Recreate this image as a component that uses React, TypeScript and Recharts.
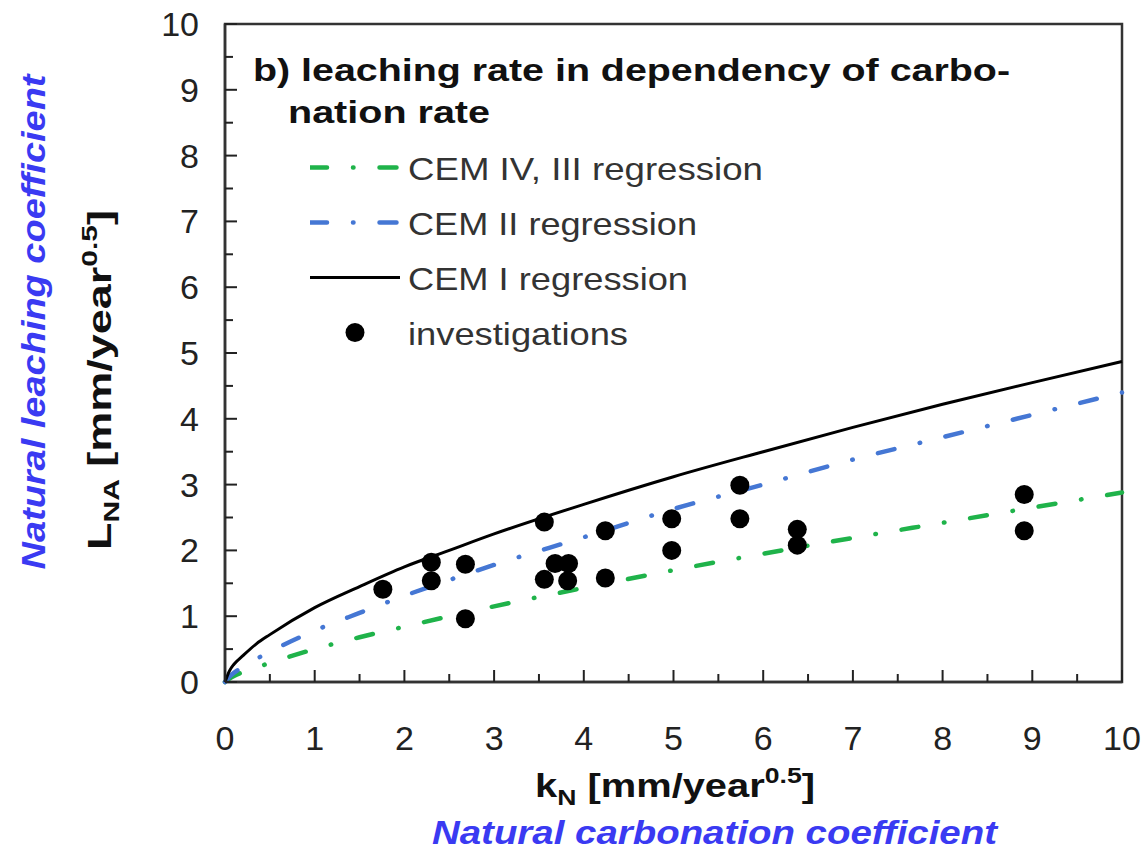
import React from 'react';
import { ComposedChart, Line, Scatter, XAxis, YAxis, ReferenceArea, Legend } from 'recharts';

// regression curves, sampled along k_N
const curveK = [0, 0.05, 0.1, 0.2, 0.35, 0.5, 1, 1.5, 2, 2.5, 3, 4, 5, 6, 7, 8, 9, 10];
const cemIVIII = [0, 0.05, 0.09, 0.15, 0.22, 0.29, 0.5, 0.68, 0.84, 1.0, 1.15, 1.43, 1.7, 1.95, 2.19, 2.42, 2.65, 2.88];
const cemII = [0, 0.08, 0.14, 0.23, 0.35, 0.46, 0.78, 1.05, 1.31, 1.55, 1.78, 2.2, 2.63, 3.0, 3.38, 3.72, 4.06, 4.4];
const cemI = [0, 0.17, 0.27, 0.4, 0.58, 0.72, 1.13, 1.45, 1.75, 2.0, 2.25, 2.7, 3.12, 3.5, 3.87, 4.22, 4.55, 4.87];

// measured samples
const investK = [1.76, 2.3, 2.3, 2.68, 2.68, 3.56, 3.56, 3.68, 3.83, 3.82, 4.24, 4.24, 4.98, 4.98, 5.74, 5.74, 6.38, 6.38, 8.91, 8.91];
const investL = [1.41, 1.82, 1.54, 1.79, 0.96, 2.43, 1.56, 1.8, 1.8, 1.54, 2.3, 1.58, 2.48, 2.0, 2.99, 2.48, 2.32, 2.08, 2.85, 2.3];

const axisTicks = [0, 0.5, 1, 1.5, 2, 2.5, 3, 3.5, 4, 4.5, 5, 5.5, 6, 6.5, 7, 7.5, 8, 8.5, 9, 9.5, 10];

const legendOrder = ['CEM IV, III regression', 'CEM II regression', 'CEM I regression', 'investigations'];

const curveRows = curveK.map((k, i) => ({ k, cemIVIII: cemIVIII[i], cemII: cemII[i], cemI: cemI[i] }));
const investRows = investK.map((k, i) => ({ k, l: investL[i] }));

const FONT = '"Liberation Sans", Arial, Helvetica, sans-serif';
const GREEN = '#1fb34a';
const BLUE = '#4577d4';
const DASH_DOT = '17 26 0.5 26';

const legendStyle: Record<string, { color: string; dash?: string; dot?: boolean; width: number }> = {
  'CEM IV, III regression': { color: GREEN, dash: DASH_DOT, width: 355 },
  'CEM II regression': { color: BLUE, dash: DASH_DOT, width: 289 },
  'CEM I regression': { color: '#000', width: 280 },
  investigations: { color: '#000', dot: true, width: 220 },
};

function XTick(props: any) {
  const { x, y, payload } = props;
  const major = Number.isInteger(payload.value);
  return (
    <g>
      <line x1={x} x2={x} y1={y} y2={y - (major ? 12 : 8)} stroke="#222" strokeWidth={2} />
      {major && (
        <text x={x} y={y + 68} textAnchor="middle" fontSize={34} fontFamily={FONT} fill="#222">
          {payload.value}
        </text>
      )}
    </g>
  );
}

function YTick(props: any) {
  const { x, y, payload } = props;
  const major = Number.isInteger(payload.value);
  return (
    <g>
      <line x1={x} x2={x + (major ? 12 : 8)} y1={y} y2={y} stroke="#222" strokeWidth={2} />
      {major && (
        <text x={x - 26} y={y + 12} textAnchor="end" fontSize={34} fontFamily={FONT} fill="#222">
          {payload.value}
        </text>
      )}
    </g>
  );
}

function LegendBox(props: any) {
  const names = (props.payload || []).map((p: any) => p.value);
  const rows = legendOrder.filter((n) => names.includes(n));
  return (
    <div>
      {rows.map((name) => {
        const s = legendStyle[name];
        return (
          <svg key={name} width={480} height={55} style={{ display: 'block' }}>
            {s.dot ? (
              <circle cx={45} cy={27.5} r={9.5} fill="#000" />
            ) : (
              <line
                x1={0}
                x2={90}
                y1={27.5}
                y2={27.5}
                stroke={s.color}
                strokeWidth={s.dash ? 4.5 : 3}
                strokeDasharray={s.dash}
                strokeLinecap={s.dash ? 'round' : 'butt'}
              />
            )}
            <text x={98} y={39.5} fontSize={32} fontFamily={FONT} fill="#333" textLength={s.width} lengthAdjust="spacingAndGlyphs">
              {name}
            </text>
          </svg>
        );
      })}
    </div>
  );
}

export default function App() {
  return (
    <div style={{ position: 'absolute', left: 0, top: 0, width: 1147, height: 851, background: '#fff' }}>
      <ComposedChart width={1147} height={851} data={curveRows} margin={{ top: 24, right: 25, left: 165, bottom: 109 }}>
        <XAxis
          type="number"
          dataKey="k"
          domain={[0, 10]}
          ticks={axisTicks}
          interval={0}
          height={60}
          tickSize={0}
          tickMargin={0}
          tick={<XTick />}
          axisLine={{ stroke: '#333', strokeWidth: 2.5 }}
        />
        <YAxis
          type="number"
          domain={[0, 10]}
          ticks={axisTicks}
          interval={0}
          width={60}
          tickSize={0}
          tickMargin={0}
          tick={<YTick />}
          axisLine={{ stroke: '#333', strokeWidth: 2.5 }}
        />
        <ReferenceArea x1={0} x2={10} y1={0} y2={10} fill="none" stroke="#333" strokeWidth={2.5} />
        <Legend
          layout="vertical"
          align="center"
          verticalAlign="middle"
          wrapperStyle={{ left: 310, top: 140, width: 480 }}
          content={<LegendBox />}
        />
        <Line
          name="CEM IV, III regression"
          type="monotone"
          dataKey="cemIVIII"
          stroke={GREEN}
          strokeWidth={4.5}
          strokeDasharray={DASH_DOT}
          strokeLinecap="round"
          dot={false}
          activeDot={false}
          isAnimationActive={false}
        />
        <Line
          name="CEM II regression"
          type="monotone"
          dataKey="cemII"
          stroke={BLUE}
          strokeWidth={4.5}
          strokeDasharray={DASH_DOT}
          strokeLinecap="round"
          dot={false}
          activeDot={false}
          isAnimationActive={false}
        />
        <Line
          name="CEM I regression"
          type="monotone"
          dataKey="cemI"
          stroke="#000"
          strokeWidth={3}
          dot={false}
          activeDot={false}
          isAnimationActive={false}
        />
        <Scatter
          name="investigations"
          data={investRows}
          dataKey="l"
          fill="#000"
          shape={(p: any) => <circle cx={p.cx} cy={p.cy} r={9.5} fill="#000" />}
          isAnimationActive={false}
        />
      </ComposedChart>
      <svg width={1147} height={851} style={{ position: 'absolute', left: 0, top: 0, pointerEvents: 'none' }} fontFamily={FONT}>
        <text x={253} y={81} fontSize={31} fontWeight="bold" fill="#111" textLength={757} lengthAdjust="spacingAndGlyphs">
          b) leaching rate in dependency of carbo-
        </text>
        <text x={288} y={123} fontSize={31} fontWeight="bold" fill="#111" textLength={202} lengthAdjust="spacingAndGlyphs">
          nation rate
        </text>
        <text x={535} y={797} fontSize={33} fontWeight="bold" fill="#111" textLength={280} lengthAdjust="spacingAndGlyphs">
          k<tspan fontSize={22} dy={8}>N</tspan>
          <tspan dy={-8}> [mm/year</tspan>
          <tspan fontSize={22} dy={-14}>0.5</tspan>
          <tspan dy={14}>]</tspan>
        </text>
        <text x={111} y={380} transform="rotate(-90 111 380)" textAnchor="middle" fontSize={33} fontWeight="bold" fill="#111" textLength={340} lengthAdjust="spacingAndGlyphs">
          L<tspan fontSize={22} dy={8}>NA</tspan>
          <tspan dy={-8}> [mm/year</tspan>
          <tspan fontSize={22} dy={-14}>0.5</tspan>
          <tspan dy={14}>]</tspan>
        </text>
        <text x={45} y={322} transform="rotate(-90 45 322)" textAnchor="middle" fontSize={33} fontWeight="bold" fontStyle="italic" fill="#3a3af2" textLength={495} lengthAdjust="spacingAndGlyphs">
          Natural leaching coefficient
        </text>
        <text x={432} y={844} fontSize={33} fontWeight="bold" fontStyle="italic" fill="#3a3af2" textLength={565} lengthAdjust="spacingAndGlyphs">
          Natural  carbonation coefficient
        </text>
      </svg>
    </div>
  );
}
